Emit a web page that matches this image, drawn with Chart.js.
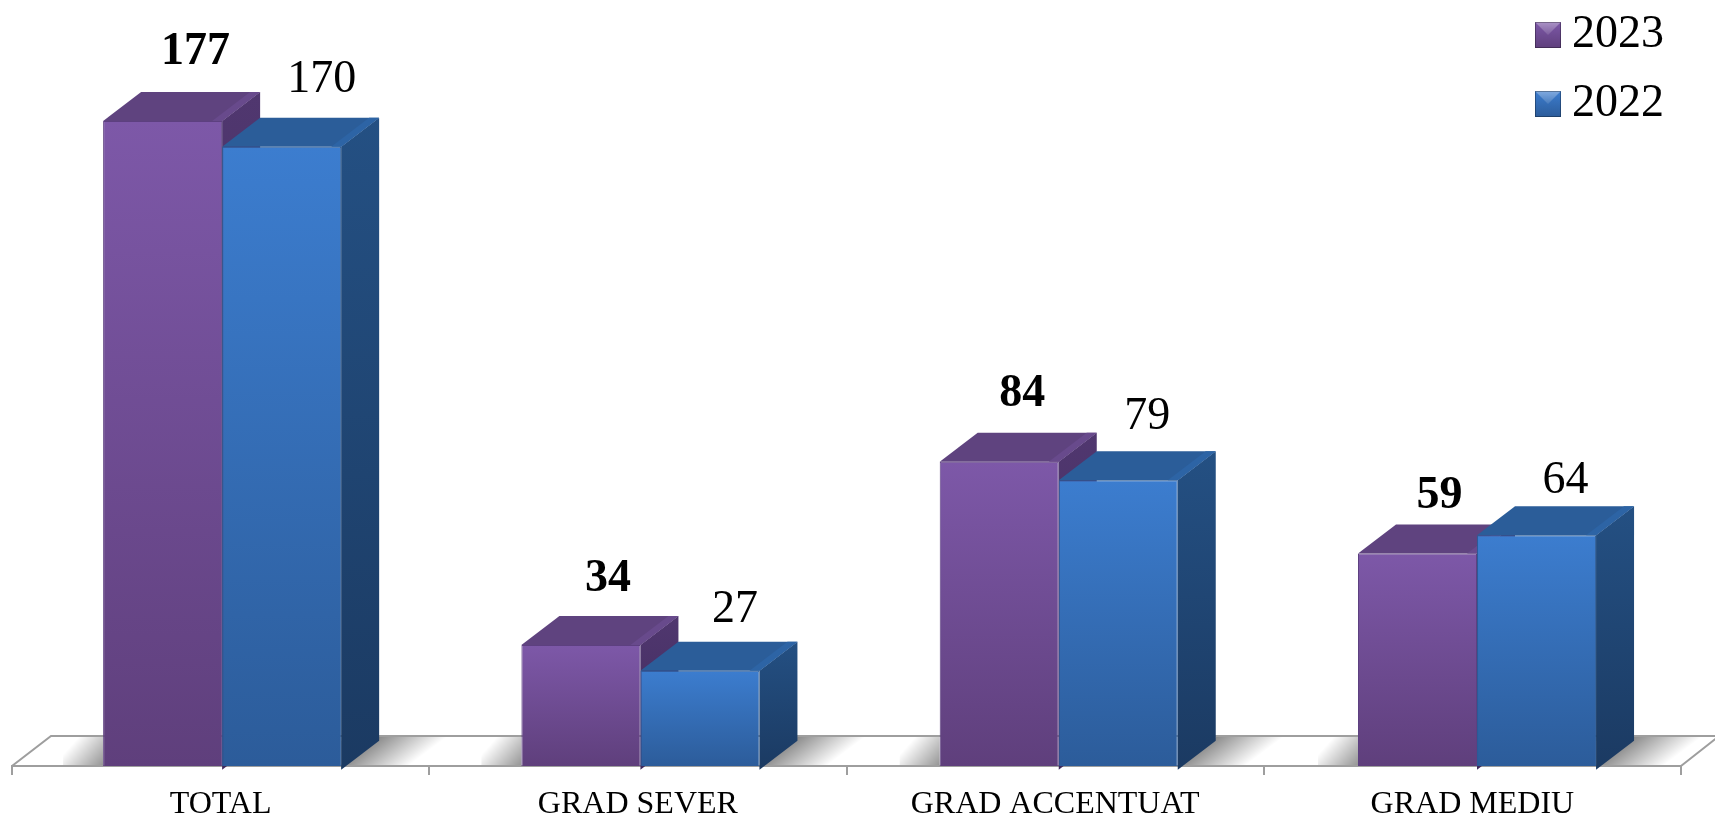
<!DOCTYPE html>
<html>
<head>
<meta charset="utf-8">
<title>Grad handicap 2023 - 2022</title>
<script src="https://cdn.jsdelivr.net/npm/chart.js@4/dist/chart.umd.min.js"></script>
<style>
    html, body { margin: 0; padding: 0; background: #ffffff; overflow: hidden; }
    canvas { display: block; }
</style>
</head>
<body>
<canvas id="gradChart" width="1715" height="816"></canvas>
<script>
const categories = ["TOTAL", "GRAD SEVER", "GRAD ACCENTUAT", "GRAD MEDIU"];
const seriesNames = ["2023", "2022"];
const values2023 = [177, 34, 84, 59];
const values2022 = [170, 27, 79, 64];

const FONT = "'Liberation Serif', 'Times New Roman', serif";
const DEPTH_X = 38;
const DEPTH_Y = 29;
const AXIS_GREY = "#9e9e9e";

/* colours per series */
const faces = [
    { frontTop: "#7d58a8", frontBottom: "#5f3f7c", edge: "#5d4080", top: "#5f437f", topEdge: "#684a8c", sideTop: "#50376f", sideBottom: "#3f2a5c" },
    { frontTop: "#3c7dcf", frontBottom: "#2c5c9a", edge: "#2c5c98", top: "#2b5d99", topEdge: "#2d64a5", sideTop: "#245083", sideBottom: "#1b3a62" }
];

/* where the value labels sit relative to the top of their bar */
const labelShiftX = [[33, 27, 23, 22], [40, 35, 29, 29]];
const labelRise = [[57, 54, 56, 45], [55, 49, 51, 42]];

function polygon(ctx, points) {
    ctx.beginPath();
    points.forEach((p, i) => i ? ctx.lineTo(p[0], p[1]) : ctx.moveTo(p[0], p[1]));
    ctx.closePath();
}

function legendSwatch(face) {
    const c = document.createElement("canvas");
    c.width = 26;
    c.height = 26;
    const g = c.getContext("2d");
    const body = g.createLinearGradient(0, 0, 0, 26);
    body.addColorStop(0, face.frontTop);
    body.addColorStop(1, face.frontBottom);
    g.fillStyle = body;
    g.fillRect(0, 0, 26, 26);
    const light = g.createLinearGradient(0, 0, 0, 13);
    light.addColorStop(0, "rgba(255,255,255,0.35)");
    light.addColorStop(1, "rgba(255,255,255,0.1)");
    g.fillStyle = light;
    polygon(g, [[0, 0], [26, 0], [13, 13]]);
    g.fill();
    g.strokeStyle = "rgba(0,0,0,0.3)";
    g.strokeRect(0.5, 0.5, 25, 25);
    return c;
}

function frontGradient(context, face) {
    const chart = context.chart;
    const y = chart.scales.y;
    if (!y || context.dataIndex === undefined) return face.frontTop;
    const from = y.getPixelForValue(context.dataset.data[context.dataIndex]);
    const to = y.getPixelForValue(y.min);
    if (!isFinite(from) || !isFinite(to)) return face.frontTop;
    const g = chart.ctx.createLinearGradient(0, from, 0, to);
    g.addColorStop(0, face.frontTop);
    g.addColorStop(1, face.frontBottom);
    return g;
}

function drawSideAndTop(ctx, meta, face) {
    meta.data.forEach((bar) => {
        const l = bar.x - bar.width / 2;
        const r = bar.x + bar.width / 2;
        const t = bar.y;
        const b = bar.base;

        const side = ctx.createLinearGradient(0, t - DEPTH_Y, 0, b);
        side.addColorStop(0, face.sideTop);
        side.addColorStop(1, face.sideBottom);
        ctx.fillStyle = side;
        polygon(ctx, [[r, t], [r + DEPTH_X, t - DEPTH_Y], [r + DEPTH_X, b - DEPTH_Y], [r, b]]);
        ctx.fill();

        ctx.fillStyle = face.top;
        polygon(ctx, [[l, t], [l + DEPTH_X, t - DEPTH_Y], [r + DEPTH_X, t - DEPTH_Y], [r, t]]);
        ctx.fill();

        // lighter strip along the outer edge of the top
        ctx.fillStyle = face.topEdge;
        polygon(ctx, [[r - 10, t], [r + DEPTH_X - 10, t - DEPTH_Y], [r + DEPTH_X, t - DEPTH_Y], [r, t]]);
        ctx.fill();
    });
}

const box3d = {
    id: "box3d",

    afterLayout(chart) {
        // legend sits in the top right corner, over the plot
        chart.legend.left = 1524;
        chart.legend.top = -11;
    },

    afterDatasetsUpdate(chart) {
        // the bars are spread a little wider than the axis ticks
        chart.data.datasets.forEach((ds, d) => {
            chart.getDatasetMeta(d).data.forEach((bar, i) => {
                bar.x += 1.5 + i * 1.05;
            });
        });
    },

    beforeDatasetsDraw(chart) {
        const ctx = chart.ctx;
        const area = chart.chartArea;
        const base = area.bottom;
        const back = base - DEPTH_Y - 1;

        ctx.save();
        ctx.strokeStyle = AXIS_GREY;
        ctx.lineWidth = 2;
        ctx.beginPath();
        ctx.moveTo(area.left, base);
        ctx.lineTo(area.left + DEPTH_X + 1, back);
        ctx.lineTo(chart.width + 10, back);
        ctx.moveTo(area.right, base);
        ctx.lineTo(area.right + DEPTH_X, back);
        ctx.stroke();

        // soft shadows on the floor either side of each pair of bars
        const first = chart.getDatasetMeta(0).data;
        const second = chart.getDatasetMeta(1).data;
        first.forEach((bar, i) => {
            const left = bar.x - bar.width / 2;
            const right = second[i].x + second[i].width / 2;
            const top = back + 1;

            let g = ctx.createLinearGradient(left, base, left - 28, top + 4);
            g.addColorStop(0, "rgba(0,0,0,0.42)");
            g.addColorStop(1, "rgba(0,0,0,0)");
            ctx.fillStyle = g;
            ctx.fillRect(left - 40, top, 40, DEPTH_Y - 1);

            g = ctx.createLinearGradient(right + 19, base - 14, right + 43, base + 18);
            g.addColorStop(0, "rgba(0,0,0,0.45)");
            g.addColorStop(1, "rgba(0,0,0,0)");
            ctx.fillStyle = g;
            polygon(ctx, [[right, base - 1], [right + DEPTH_X, top], [right + 110, top], [right + 70, base - 1]]);
            ctx.fill();
        });
        ctx.restore();
    },

    beforeDatasetDraw(chart, args) {
        // the last dataset is painted first, so both series get their
        // sides and tops here and the 2022 fronts land over the 2023 sides
        if (args.index !== 1) return;
        const ctx = chart.ctx;
        ctx.save();
        drawSideAndTop(ctx, chart.getDatasetMeta(0), faces[0]);
        drawSideAndTop(ctx, chart.getDatasetMeta(1), faces[1]);
        ctx.restore();
    },

    afterDatasetsDraw(chart) {
        const ctx = chart.ctx;
        ctx.save();
        ctx.fillStyle = "#000000";
        ctx.textAlign = "center";
        ctx.textBaseline = "alphabetic";
        chart.data.datasets.forEach((ds, d) => {
            ctx.font = (d === 0 ? "bold " : "") + "46px " + FONT;
            chart.getDatasetMeta(d).data.forEach((bar, i) => {
                ctx.fillText(ds.data[i], bar.x + labelShiftX[d][i], bar.y - labelRise[d][i]);
            });
        });
        ctx.restore();
    }
};

new Chart(document.getElementById("gradChart"), {
    type: "bar",
    data: {
        labels: categories,
        datasets: [
            {
                label: seriesNames[0],
                data: values2023,
                borderWidth: 1,
                borderColor: faces[0].edge,
                backgroundColor: (context) => frontGradient(context, faces[0])
            },
            {
                label: seriesNames[1],
                data: values2022,
                borderWidth: 1,
                borderColor: faces[1].edge,
                backgroundColor: (context) => frontGradient(context, faces[1])
            }
        ]
    },
    options: {
        responsive: false,
        animation: false,
        events: [],
        layout: { padding: { left: 12, right: 34, top: 2, bottom: 0 } },
        datasets: { bar: { categoryPercentage: 0.5705, barPercentage: 1 } },
        scales: {
            x: {
                afterFit: (scale) => { scale.height = 50; },
                border: { color: AXIS_GREY, width: 2 },
                grid: { drawOnChartArea: false, color: AXIS_GREY, lineWidth: 2, tickLength: 9 },
                ticks: {
                    color: "#000000",
                    font: { family: FONT, size: 32 },
                    padding: 10,
                    maxRotation: 0,
                    autoSkip: false
                }
            },
            y: { display: false, min: 1, max: 209.5 }
        },
        plugins: {
            tooltip: { enabled: false },
            legend: {
                position: "chartArea",
                align: "start",
                labels: {
                    color: "#000000",
                    font: { family: FONT, size: 46 },
                    padding: 23,
                    boxWidth: 2,
                    boxHeight: 26,
                    usePointStyle: true,
                    generateLabels(chart) {
                        return Chart.defaults.plugins.legend.labels.generateLabels(chart).map((item, i) => {
                            item.pointStyle = legendSwatch(faces[i]);
                            return item;
                        });
                    }
                }
            }
        }
    },
    plugins: [box3d]
});
</script>
</body>
</html>
